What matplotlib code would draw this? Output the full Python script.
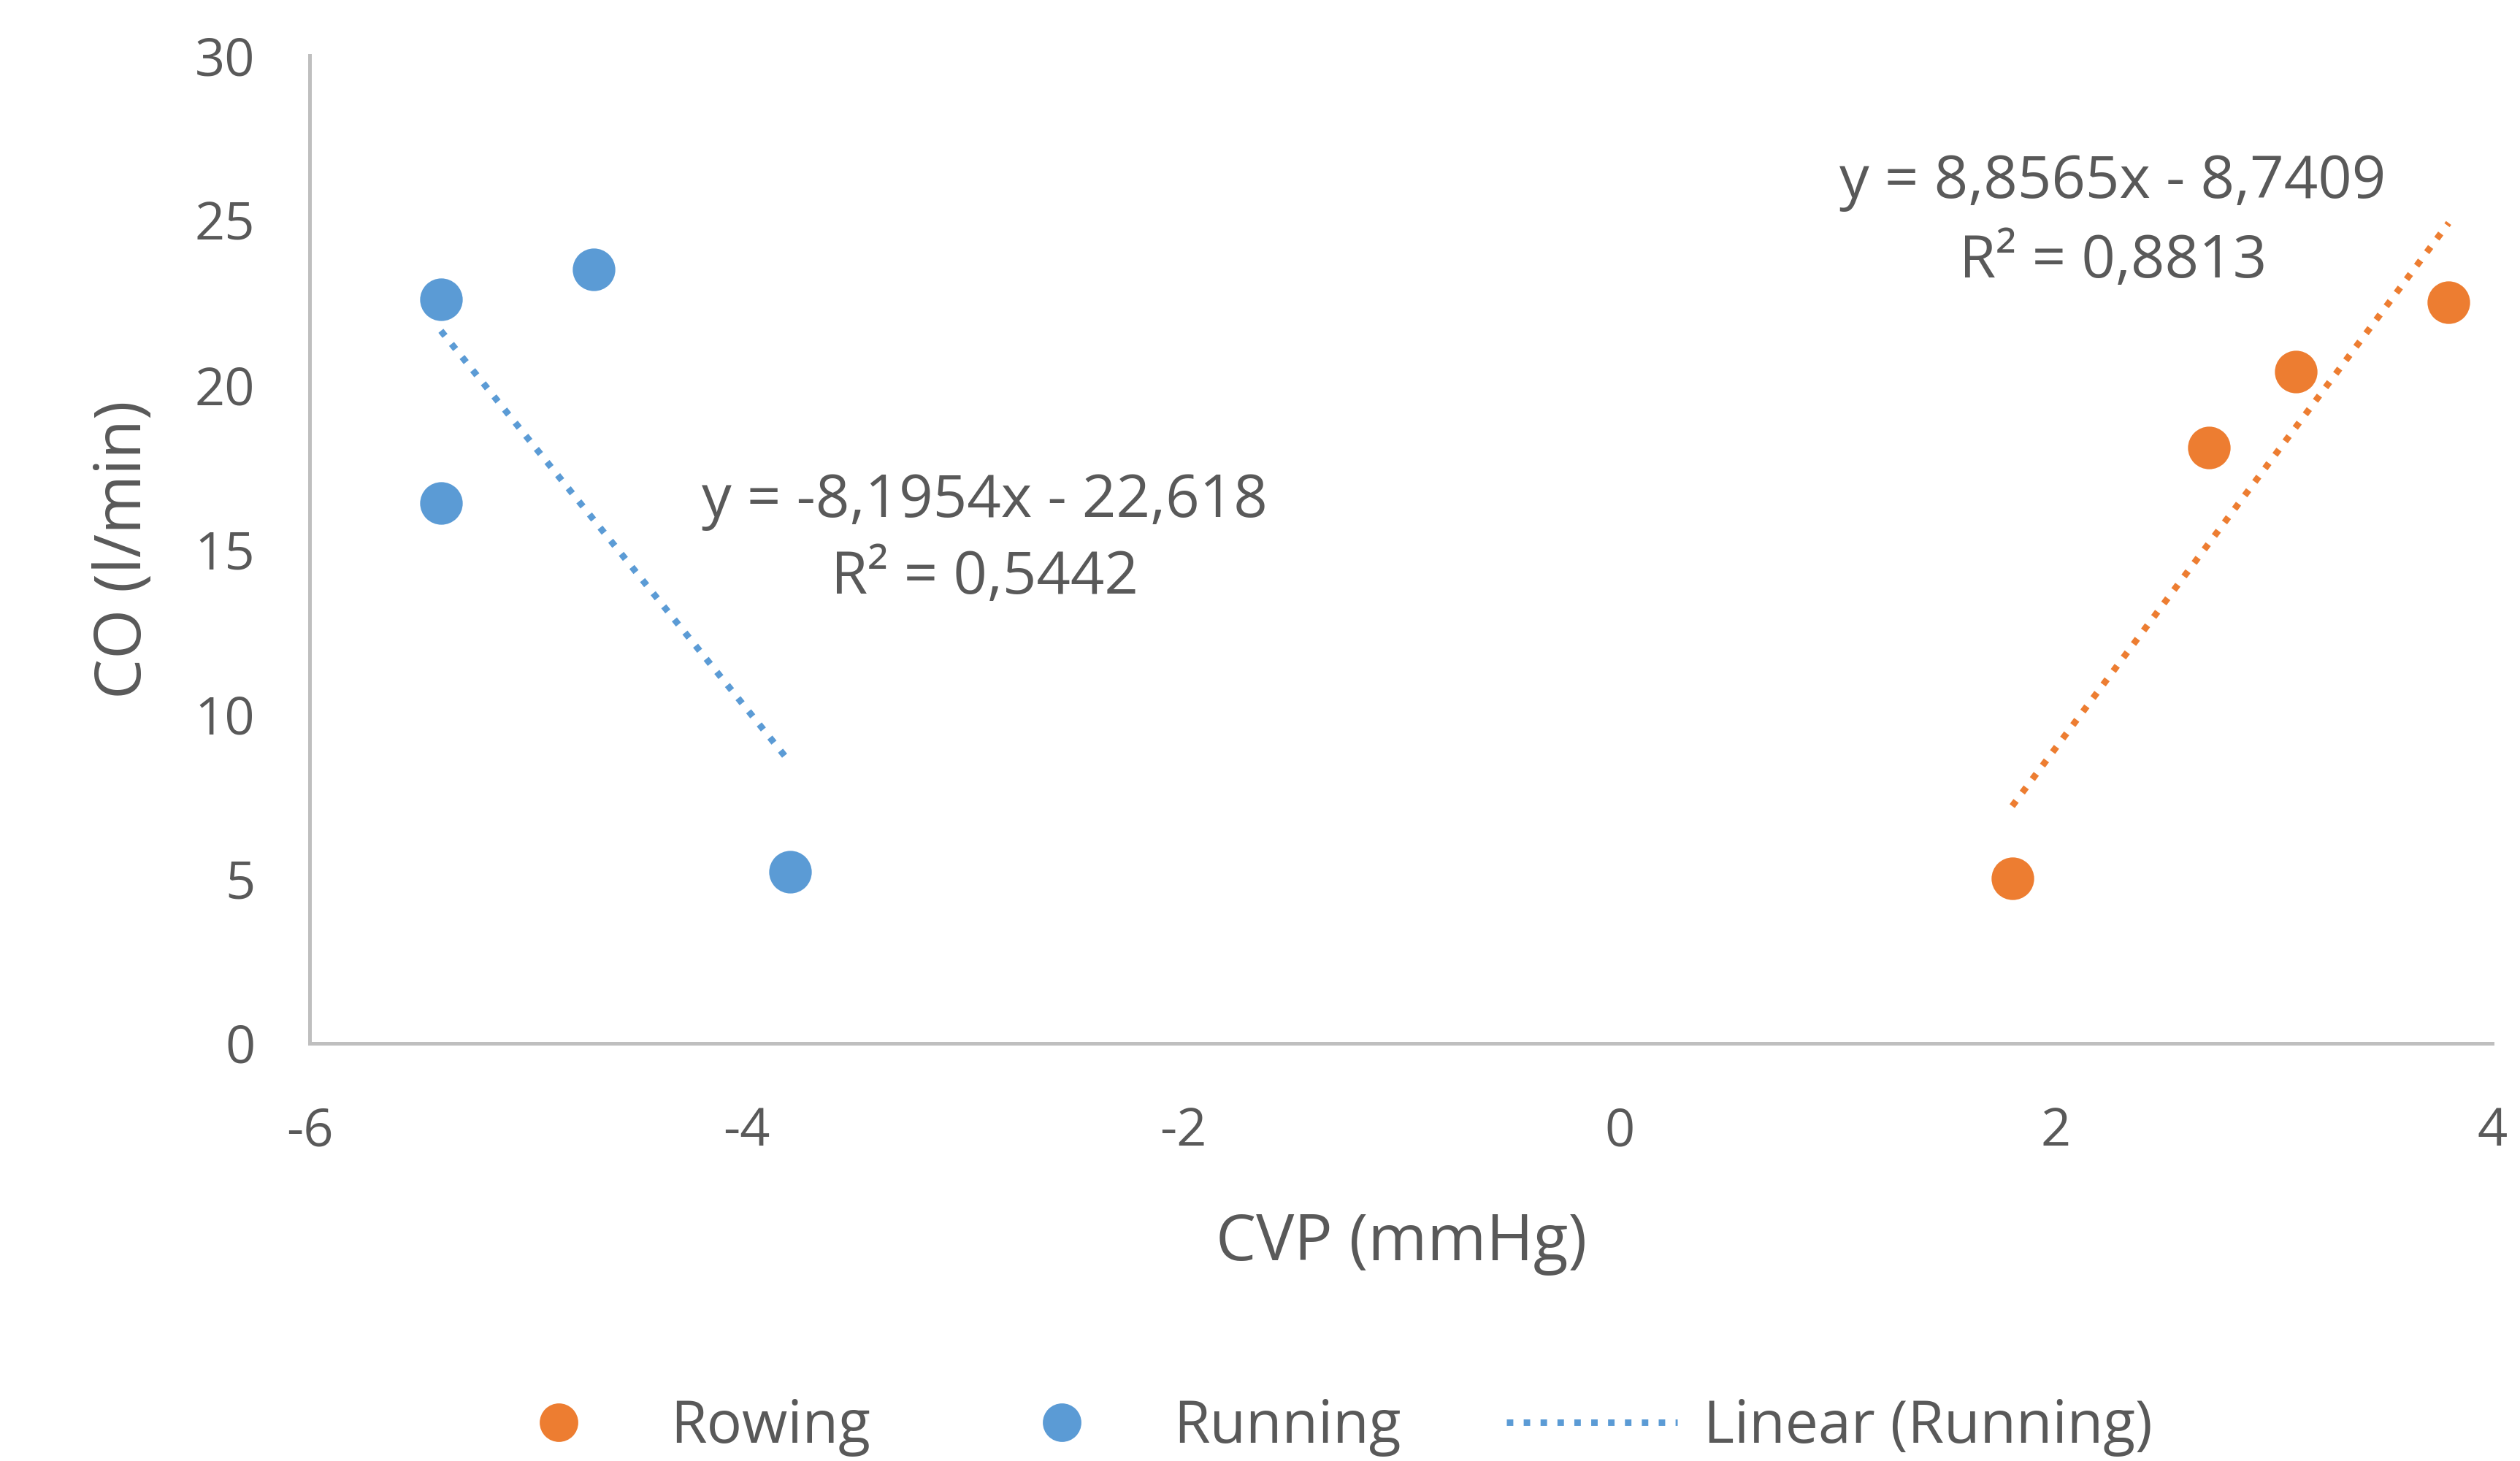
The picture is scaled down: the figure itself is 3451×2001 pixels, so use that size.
import matplotlib
matplotlib.use("Agg")
import matplotlib.pyplot as plt
import numpy as np

plt.rcParams['font.family'] = ['Open Sans', 'DejaVu Sans']
plt.rcParams['axes.unicode_minus'] = False

# Data
running_x = [-5.4, -4.7, -5.4, -3.8]
running_y = [22.6, 23.5, 16.4, 5.2]
rowing_x = [1.8, 2.7, 3.1, 3.8]
rowing_y = [5.0, 18.1, 20.4, 22.5]

run_eq = ["y = -8,1954x - 22,618", "R\u00b2 = 0,5442"]
row_eq = ["y = 8,8565x - 8,7409", "R\u00b2 = 0,8813"]

x_ticks = [-6, -4, -2, 0, 2, 4]
y_ticks = [0, 5, 10, 15, 20, 25, 30]

ORANGE = '#ED7D31'
BLUE = '#5B9BD5'
TXT = '#595959'
AXC = '#BFBFBF'

fig = plt.figure(figsize=(17.255, 10.005), dpi=200)
ax = fig.add_axes([0.123, 0.286, 0.866, 0.676])

ax.plot(rowing_x, rowing_y, 'o', color=ORANGE, markersize=20, label='Rowing', zorder=3)
ax.plot(running_x, running_y, 'o', color=BLUE, markersize=20, label='Running', zorder=3)

# Linear trendlines over data range
for xs, ys, c, lab in [(running_x, running_y, BLUE, 'Linear (Running)'),
                       (rowing_x, rowing_y, ORANGE, None)]:
    k, b = np.polyfit(xs, ys, 1)
    xx = np.array([min(xs), max(xs)])
    ax.plot(xx, k * xx + b, color=c, lw=3.2, linestyle=(0, (1, 1.6)),
            label=lab if lab else '_nolegend_', zorder=2)

for (cx, ys), lines in [((-2.907, (16.46, 14.12)), run_eq),
                        ((2.262, (26.14, 23.74)), row_eq)]:
    for yy, s in zip(ys, lines):
        ax.text(cx, yy, s, ha='center', va='center', fontsize=29.3, color=TXT)

ax.set_xlim(-6, 4)
ax.set_ylim(0, 30)
ax.set_xticks(x_ticks)
ax.set_yticks(y_ticks)
ax.tick_params(length=0, labelsize=26, labelcolor=TXT)
ax.tick_params(axis='y', pad=27)
ax.tick_params(axis='x', pad=31)
for s in ['top', 'right']:
    ax.spines[s].set_visible(False)
for s in ['left', 'bottom']:
    ax.spines[s].set_color(AXC)
    ax.spines[s].set_linewidth(1.8)

ax.set_xlabel('CVP (mmHg)', fontsize=31.5, color=TXT, labelpad=26)
ax.set_ylabel('CO (l/min)', fontsize=31.5, color=TXT, labelpad=19)

h, l = ax.get_legend_handles_labels()
leg = fig.legend(h, l, loc='center', bbox_to_anchor=(0.521, 0.023), ncol=3,
                 frameon=False, fontsize=29, handlelength=2.9, columnspacing=1.8,
                 handletextpad=0.45, markerscale=0.9, borderpad=0)
for t in leg.get_texts():
    t.set_color(TXT)

fig.savefig('out.png', dpi=200)
